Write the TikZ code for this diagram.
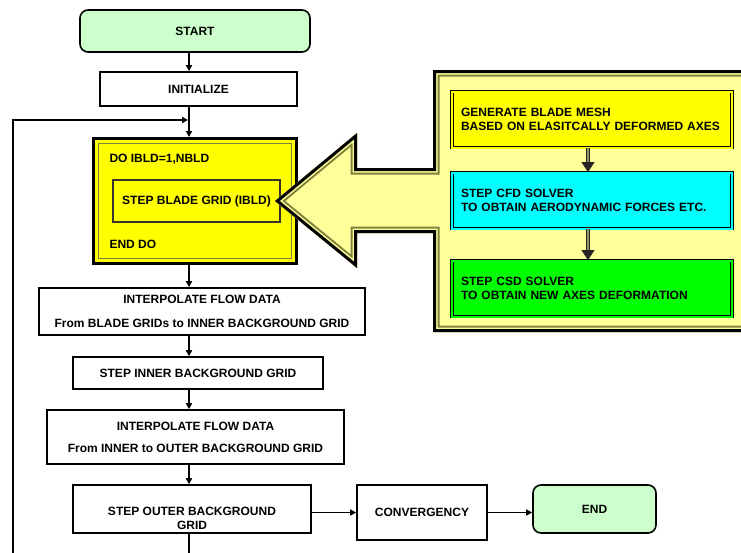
\documentclass[tikz,border=0pt]{standalone}
\usepackage{fontspec}
\setmainfont{Liberation Sans}
\usepackage{tikz}
\usetikzlibrary{arrows.meta}
\definecolor{startgreen}{RGB}{204,255,204}
\definecolor{paleyellow}{RGB}{255,255,153}
\definecolor{loopyellow}{RGB}{255,255,0}
\definecolor{cfdcyan}{RGB}{0,255,255}
\definecolor{csdgreen}{RGB}{0,255,0}
\definecolor{framegray}{RGB}{128,128,64}
\definecolor{shaftgray}{RGB}{150,150,100}
\newcommand\flowfont{\fontsize{12pt}{14pt}\selectfont\bfseries}
\tikzset{
  box/.style={draw, line width=1.6pt, fill=white, font=\flowfont, align=center},
  term/.style={box, fill=startgreen, rounded corners=8pt},
  panelbox/.style={draw=black, double=#1, double distance=2pt, line width=0.8pt, fill=#1,
    minimum width=280pt, minimum height=56pt, text width=262pt, align=left, font=\flowfont},
  arr/.style={line width=1.6pt, -{Triangle[length=6pt,width=6pt]}},
  thickarr/.style={draw=black!85, double=shaftgray, double distance=2.5pt, line width=0.8pt,
    -{Triangle[length=10pt,width=13pt]}},
  callout/.style={insert path={(275,201) -- (357,133) -- (357,168) -- (433,168) -- (433,70)
    -- (760,70) -- (760,332) -- (433,332) -- (433,233) -- (357,233) -- (357,268) -- cycle}}
}
\begin{document}
\begin{tikzpicture}[x=1pt, y=-1pt]
            \useasboundingbox (0,0) rectangle (741,552);
            \clip (0,0) rectangle (741,552);
            \coordinate (spine) at (189,0);
            \node [term, minimum width=230pt, minimum height=42pt] (start) at (195,31) {START};
            \node [box, minimum width=197pt, minimum height=34pt] (init) at (198.5,89) {INITIALIZE};
            \node [draw, line width=3pt, fill=loopyellow, minimum width=203pt, minimum height=125pt] (do) at (195,201) {};
            \draw [framegray, line width=1pt] ([shift={(6.5,6.5)}]do.north west) rectangle ([shift={(-6.5,-6.5)}]do.south east);
            \node [anchor=west, font=\flowfont] (dolbl) at (106,159) {DO IBLD=1,NBLD};
            \node [draw=black!80!olive, line width=1.3pt, minimum width=167pt, minimum height=42pt, font=\flowfont] (blade) at (196.5,201) {STEP BLADE GRID (IBLD)};
            \node [anchor=west, font=\flowfont] (enddo) at (106,244) {END DO};
            \node [box, minimum width=326pt, minimum height=47pt, text depth=0pt] (interp1) at (202,311.5)
                {INTERPOLATE FLOW DATA\\[10pt]From BLADE GRIDs to INNER BACKGROUND GRID};
            \node [box, minimum width=250pt, minimum height=32pt] (inner) at (198,373) {STEP INNER BACKGROUND GRID};
            \node [box, minimum width=297pt, minimum height=54pt] (interp2) at (195.5,437)
                {INTERPOLATE FLOW DATA\\[8pt]From INNER to OUTER BACKGROUND GRID};
            \node [box, minimum width=238pt, minimum height=48pt,
                label={[name=outerlbl, font=\flowfont, align=center, yshift=-9pt]center:STEP OUTER BACKGROUND\\GRID}] (outer) at (192,509) {};
            \node [box, minimum width=130pt, minimum height=55pt] (conv) at (422,512.5) {CONVERGENCY};
            \node [term, minimum width=123pt, minimum height=48pt] (endnode) at (594.5,509) {END};
            \draw [arr] (start.south -| spine) -- (init.north -| spine);
            \draw [arr] (init.south -| spine) -- (do.north -| spine);
            \coordinate (loopbot) at (13,560);
            \coordinate (loopend) at (188,120);
            \draw [arr] (loopbot) |- (loopend);
            \draw [arr] (do.south -| spine) -- (interp1.north -| spine);
            \draw [arr] (interp1.south -| spine) -- (inner.north -| spine);
            \draw [arr] (inner.south -| spine) -- (interp2.north -| spine);
            \draw [arr] (interp2.south -| spine) -- (outer.north -| spine);
            \coordinate (outbot) at (189,560);
            \draw [line width=1.6pt] (outer.south -| spine) -- (outbot);
            \draw [arr] (outer.east |- conv) -- (conv.west);
            \draw [arr] (conv.east) -- (conv.east -| endnode.west);
            \begin{scope}
                \clip [callout];
                \fill [paleyellow, callout];
                \draw [framegray, line width=13pt, callout];
                \draw [paleyellow, line width=9pt, callout];
                \draw [black, line width=6pt, callout];
            \end{scope}
            \node [panelbox=loopyellow] (gen) at (592,119.5) {GENERATE BLADE MESH\\BASED ON ELASITCALLY DEFORMED AXES};
            \node [panelbox=cfdcyan] (cfd) at (592,200.5) {STEP CFD SOLVER\\TO OBTAIN AERODYNAMIC FORCES ETC.};
            \node [panelbox=csdgreen] (csd) at (592,288.5) {STEP CSD SOLVER\\TO OBTAIN NEW AXES DEFORMATION};
            \coordinate (pline) at (588,0);
            \draw [thickarr] (gen.south -| pline) -- (cfd.north -| pline);
            \draw [thickarr] (cfd.south -| pline) -- (csd.north -| pline);
        \end{tikzpicture}
\end{document}
